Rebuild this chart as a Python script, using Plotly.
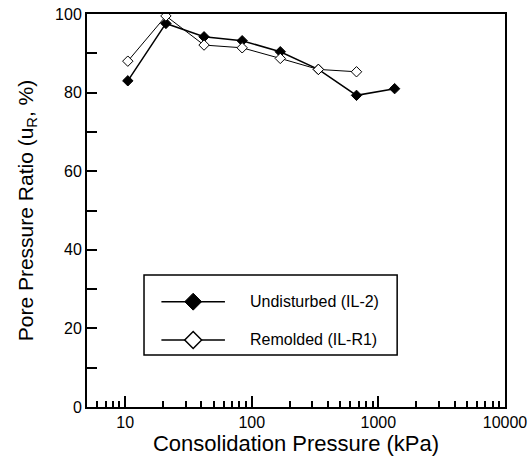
import plotly.graph_objects as go

# ---- data ----
undisturbed_p = [10.5, 21, 42, 84, 168, 336, 672, 1344]
undisturbed_u = [83.0, 97.6, 94.2, 93.2, 90.4, 85.9, 79.3, 81.0]
remolded_p = [10.5, 21, 42, 84, 168, 336, 672]
remolded_u = [88.0, 99.5, 92.1, 91.4, 88.7, 85.9, 85.3]
series_names = ["Undisturbed (IL-2)", "Remolded (IL-R1)"]
x_ticks = [10, 100, 1000, 10000]
y_ticks = [0, 20, 40, 60, 80, 100]

FONT = "Liberation Sans, Arial, sans-serif"

fig = go.Figure()
fig.add_trace(go.Scatter(
    x=undisturbed_p, y=undisturbed_u, mode="lines+markers", name=series_names[0],
    line=dict(color="black", width=1.5),
    marker=dict(symbol="diamond", size=8, color="black", line=dict(color="black", width=1)),
    showlegend=False))
fig.add_trace(go.Scatter(
    x=remolded_p, y=remolded_u, mode="lines+markers", name=series_names[1],
    line=dict(color="black", width=1),
    marker=dict(symbol="diamond", size=8, color="white", line=dict(color="black", width=1)),
    showlegend=False))

# ---- hand-built legend (paper coordinates of the plot area) ----
lg_x0, lg_x1, lg_y0, lg_y1 = 0.1364, 0.742, 0.1323, 0.336
row_y = [0.268, 0.1705]
line_x0, line_x1, mark_x, text_x = 0.178, 0.330, 0.254, 0.385
shapes = [dict(type="rect", xref="paper", yref="paper", x0=lg_x0, x1=lg_x1, y0=lg_y0, y1=lg_y1,
               line=dict(color="black", width=1.5), fillcolor="rgba(0,0,0,0)", layer="below")]
for ry in row_y:
    shapes.append(dict(type="line", xref="paper", yref="paper", x0=line_x0, x1=line_x1, y0=ry, y1=ry,
                       line=dict(color="black", width=1.5), layer="below"))
fig.add_trace(go.Scatter(x=[mark_x], y=[row_y[0]], xaxis="x2", yaxis="y2", mode="markers",
                         marker=dict(symbol="diamond", size=13, color="black",
                                     line=dict(color="black", width=1)),
                         showlegend=False, hoverinfo="skip"))
fig.add_trace(go.Scatter(x=[mark_x], y=[row_y[1]], xaxis="x2", yaxis="y2", mode="markers",
                         marker=dict(symbol="diamond", size=13, color="white",
                                     line=dict(color="black", width=1.5)),
                         showlegend=False, hoverinfo="skip"))
annotations = [dict(x=text_x, y=ry, xref="paper", yref="paper", text=nm, showarrow=False,
                    xanchor="left", yanchor="middle", font=dict(family=FONT, size=16, color="black"))
               for ry, nm in zip(row_y, series_names)]

minor_vals = [m * d for d in [1, 10, 100, 1000] for m in range(2, 10) if 5 < m * d < 10000]

fig.update_layout(
    width=532, height=461,
    margin=dict(l=87, r=27, t=14, b=54),
    paper_bgcolor="white", plot_bgcolor="white",
    font=dict(family=FONT, color="black"),
    shapes=shapes, annotations=annotations,
    xaxis=dict(type="log", range=[0.69897, 4], tickvals=x_ticks, ticktext=[str(v) for v in x_ticks],
               ticks="inside", ticklen=11, tickwidth=1.5, tickcolor="black", automargin=False,
               minor=dict(tickvals=minor_vals, ticks="inside", ticklen=6, tickwidth=1.5, tickcolor="black"),
               showline=True, linewidth=2, linecolor="black", mirror=True, showgrid=False, zeroline=False,
               tickfont=dict(family=FONT, size=16),
               title=dict(text="Consolidation Pressure (kPa)", font=dict(family=FONT, size=22), standoff=4)),
    yaxis=dict(range=[0, 100], tickvals=y_ticks, ticks="inside", ticklen=10, tickwidth=1.5, tickcolor="black",
               automargin=False,
               minor=dict(dtick=10, ticks="inside", ticklen=10, tickwidth=1.5, tickcolor="black"),
               showline=True, linewidth=2, linecolor="black", mirror=True, showgrid=False, zeroline=False,
               tickfont=dict(family=FONT, size=16),
               title=dict(text="Pore Pressure Ratio (u<sub>R</sub>, %)", font=dict(family=FONT, size=21),
                          standoff=16)),
    xaxis2=dict(overlaying="x", range=[0, 1], visible=False),
    yaxis2=dict(overlaying="y", range=[0, 1], visible=False),
)

fig.write_html("out.html")
